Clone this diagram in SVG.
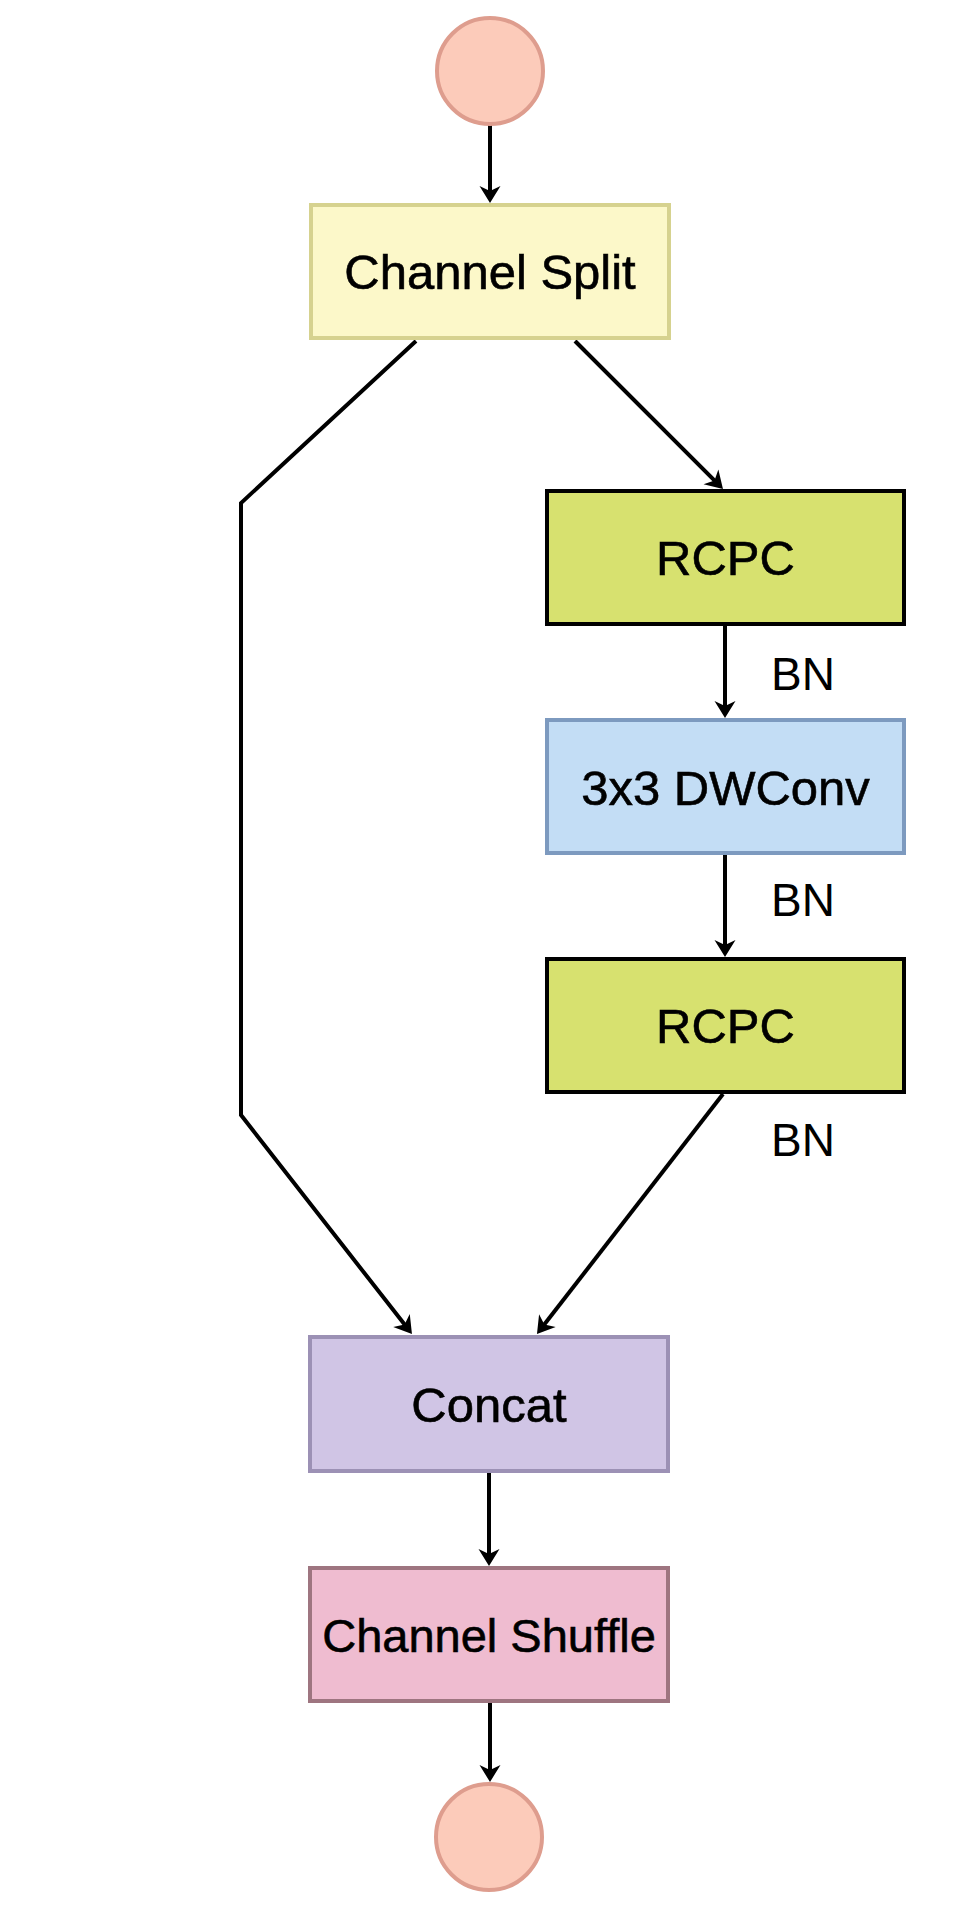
<svg xmlns="http://www.w3.org/2000/svg" width="980" height="1908" viewBox="0 0 980 1908">
<defs>
<style>
.lbl{font-family:"Liberation Sans",Helvetica,Arial,sans-serif;font-size:49px;fill:#000;stroke:#000;stroke-width:0.6;text-anchor:middle}
.bn{font-family:"Liberation Sans",Helvetica,Arial,sans-serif;font-size:46px;fill:#000}
.edge{fill:none;stroke:#000;stroke-width:4;stroke-linejoin:miter}
.circ{fill:#fccbba;stroke:#de9d8e;stroke-width:4}
</style>
<marker id="arr" markerUnits="userSpaceOnUse" viewBox="-26 -12 28 24" refX="-10" refY="0" markerWidth="28" markerHeight="24" orient="auto" overflow="visible">
<path d="M0,0 L-17,-10.5 L-12,0 L-17,10.5 Z" fill="#000"/>
</marker>
</defs>
<rect width="980" height="1908" fill="#fff"/>
<g id="connectors">
<line class="edge" x1="490" y1="125" x2="490" y2="193" marker-end="url(#arr)"/>
<line class="edge" x1="575" y1="341" x2="715.9" y2="481.9" marker-end="url(#arr)"/>
<polyline class="edge" points="416,341 241,503 241,1115 405.8,1326.1" marker-end="url(#arr)"/>
<line class="edge" x1="725" y1="626" x2="725" y2="708" marker-end="url(#arr)"/>
<line class="edge" x1="725" y1="855" x2="725" y2="947" marker-end="url(#arr)"/>
<line class="edge" x1="723" y1="1094" x2="543.1" y2="1326.1" marker-end="url(#arr)"/>
<line class="edge" x1="489" y1="1473" x2="489" y2="1556" marker-end="url(#arr)"/>
<line class="edge" x1="490" y1="1703" x2="490" y2="1772" marker-end="url(#arr)"/>
</g>
<g id="input">
<circle class="circ" cx="490" cy="71" r="53"/>
</g>
<g id="channel-split">
<rect x="311" y="205" width="358" height="133" fill="#fcf8c9" stroke="#d6d28f" stroke-width="4"/>
<text class="lbl" x="490" y="289">Channel Split</text>
</g>
<g id="rcpc1">
<rect x="547" y="491" width="357" height="133" fill="#d7e16f" stroke="#000" stroke-width="4"/>
<text class="lbl" x="725.5" y="575">RCPC</text>
</g>
<g id="dwconv">
<rect x="547" y="720" width="357" height="133" fill="#c3ddf5" stroke="#7d9abf" stroke-width="4"/>
<text class="lbl" x="725.5" y="805">3x3 DWConv</text>
</g>
<g id="rcpc2">
<rect x="547" y="959" width="357" height="133" fill="#d7e16f" stroke="#000" stroke-width="4"/>
<text class="lbl" x="725.5" y="1043">RCPC</text>
</g>
<g id="bn-labels">
<text class="bn" x="771" y="690">BN</text>
<text class="bn" x="771" y="916">BN</text>
<text class="bn" x="771" y="1156">BN</text>
</g>
<g id="concat">
<rect x="310" y="1337" width="358" height="134" fill="#d0c5e5" stroke="#9c91b5" stroke-width="4"/>
<text class="lbl" x="489" y="1422">Concat</text>
</g>
<g id="channel-shuffle">
<rect x="310" y="1568" width="358" height="133" fill="#efbcd0" stroke="#9e7580" stroke-width="4"/>
<text class="lbl" x="489" y="1652" style="font-size:47px">Channel Shuffle</text>
</g>
<g id="output">
<circle class="circ" cx="489" cy="1837" r="53"/>
</g>
</svg>
